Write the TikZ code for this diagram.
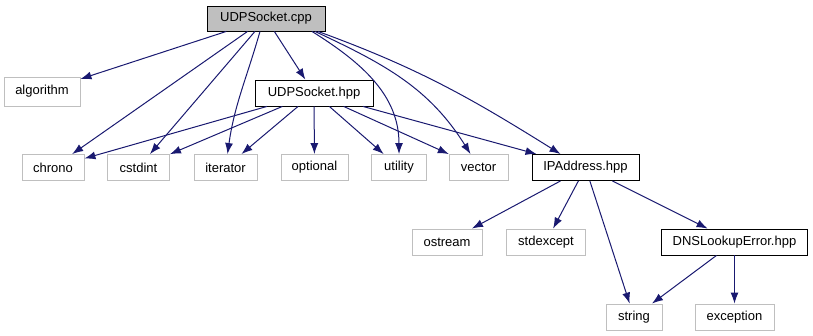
\documentclass[tikz,border=0pt]{standalone}
\usepackage{fontspec}
\setmainfont{Liberation Sans}
\usetikzlibrary{arrows.meta}

\definecolor{edgeblue}{HTML}{191970}
\definecolor{boxgray}{HTML}{BFBFBF}

\begin{document}
\begin{tikzpicture}[x=1pt,y=1pt,
  font=\fontsize{13}{15}\selectfont,
  file/.style={draw,line width=0.9pt,inner sep=0pt,minimum height=26pt},
  sysfile/.style={file,draw=boxgray},
  srcfile/.style={file,draw=black},
  mainfile/.style={srcfile,fill=boxgray},
  dep/.style={draw=edgeblue,line width=1pt,-{Latex[length=11pt,width=8pt]}}]
  \useasboundingbox (0,0) rectangle (813,-336);

  % top level
  \node[mainfile,minimum width=118pt,minimum height=25pt] (cpp) at (266,-18.5) {UDPSocket.cpp};
  \node[sysfile,minimum width=76pt,minimum height=29pt] (algorithm) at (42,-91.5) {algorithm};
  \node[srcfile,minimum width=118pt] (hpp) at (314,-93) {UDPSocket.hpp};

  % headers row
  \node[sysfile,minimum width=62pt] (chrono) at (53,-167.5) {chrono};
  \node[sysfile,minimum width=62pt] (cstdint) at (138.5,-167.5) {cstdint};
  \node[sysfile,minimum width=63pt] (iterator) at (225.5,-167.5) {iterator};
  \node[sysfile,minimum width=67pt] (optional) at (314.5,-167.5) {optional};
  \node[sysfile,minimum width=55pt] (utility) at (399,-167.5) {utility};
  \node[sysfile,minimum width=59pt] (vector) at (478.5,-167.5) {vector};
  \node[srcfile,minimum width=107pt] (ipaddr) at (585.5,-167.5) {IPAddress.hpp};

  % IPAddress includes
  \node[sysfile,minimum width=70pt] (ostream) at (447,-242) {ostream};
  \node[sysfile,minimum width=79pt] (stdexcept) at (546,-242) {stdexcept};
  \node[srcfile,minimum width=146pt] (dns) at (734.5,-242) {DNSLookupError.hpp};
  \node[sysfile,minimum width=56pt] (string) at (634,-317) {string};
  \node[sysfile,minimum width=79pt] (exception) at (734.5,-317) {exception};

  % UDPSocket.cpp
  \draw[dep] (cpp) -- (algorithm);
  \draw[dep] (cpp) -- (chrono);
  \draw[dep] (cpp) -- (cstdint);
  \draw[dep] ([xshift=-6pt]cpp.south) to[out=-106,in=82] ([xshift=2pt]iterator.north);
  \draw[dep] (cpp) -- (hpp);
  \draw[dep] ([xshift=46pt]cpp.south) to[out=-32,in=90] (utility.north);
  \draw[dep] ([xshift=49pt]cpp.south) to[out=-25,in=122] ([xshift=-8pt]vector.north);
  \draw[dep] ([xshift=52pt]cpp.south) to[out=-20,in=148] ([xshift=-25pt]ipaddr.north);

  % UDPSocket.hpp
  \foreach \dst in {chrono,cstdint,iterator,optional,utility,vector,ipaddr}
    \draw[dep] (hpp) -- (\dst);

  % IPAddress.hpp
  \foreach \dst in {ostream,stdexcept,string,dns}
    \draw[dep] (ipaddr) -- (\dst);

  % DNSLookupError.hpp
  \draw[dep] (dns) -- (string);
  \draw[dep] (dns) -- (exception);
\end{tikzpicture}
\end{document}
